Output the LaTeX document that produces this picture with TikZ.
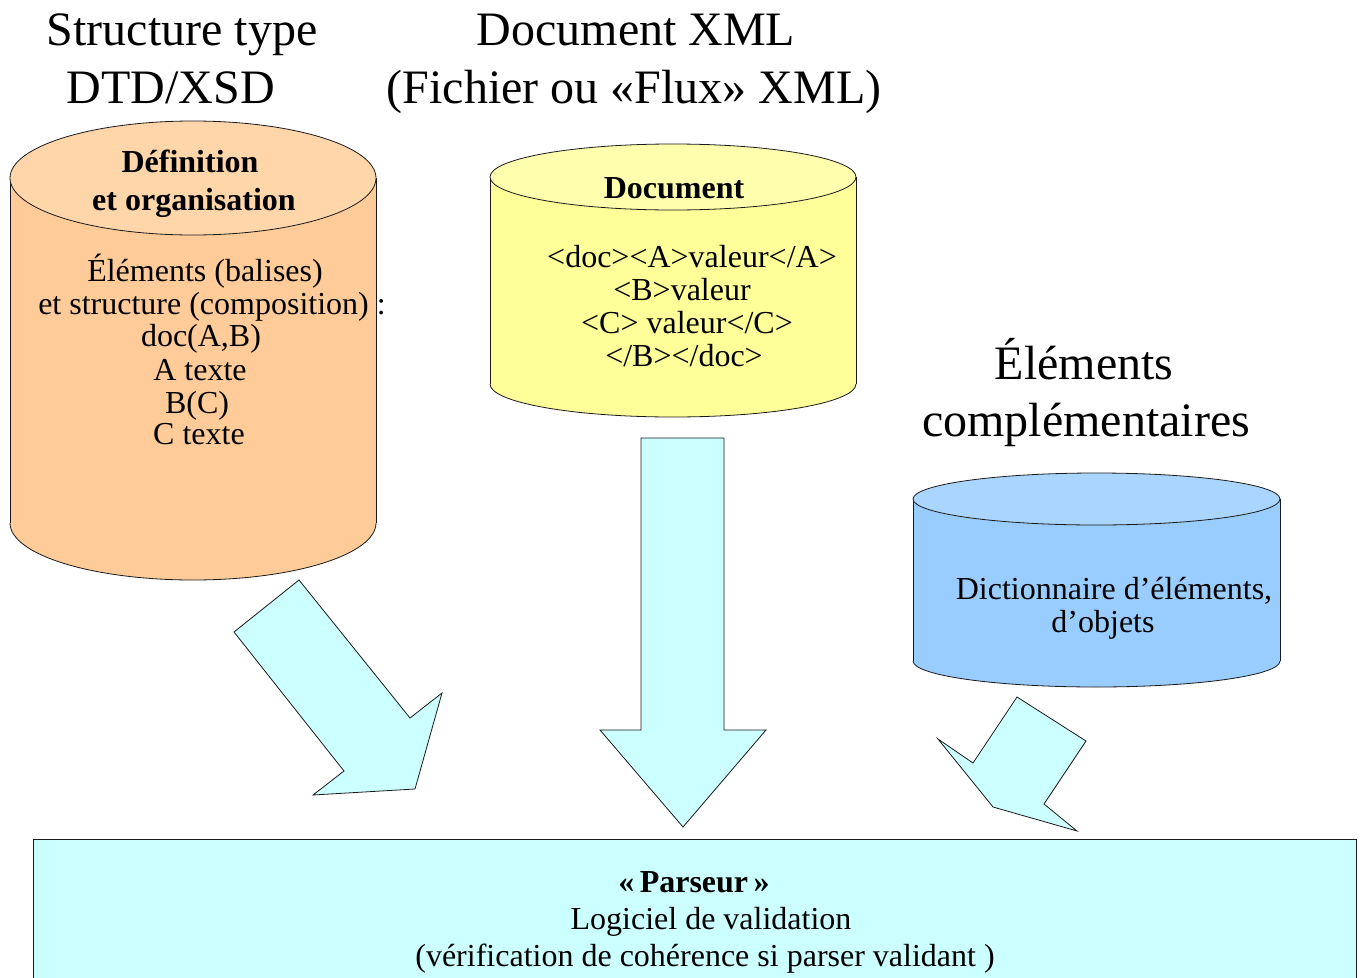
\documentclass[tikz,border=0pt]{standalone}
\usepackage{fontspec}
\setmainfont{Liberation Serif}
\definecolor{peachbody}{HTML}{FFCC99}
\definecolor{peachtop}{HTML}{FFD5AA}
\definecolor{yellowbody}{HTML}{FFFF99}
\definecolor{yellowtop}{HTML}{FFFFAD}
\definecolor{bluebody}{HTML}{99CCFF}
\definecolor{bluetop}{HTML}{AAD5FF}
\definecolor{arrowfill}{HTML}{CCFFFF}
\definecolor{edge}{HTML}{1A1A1A}
\newcommand{\mycyl}[7]{% cx, rx, ctop, cbot, ry, body, top
  \fill[#6] ({#1-#2},#3) rectangle ({#1+#2},#4);
  \fill[#6] (#1,#4) ellipse[x radius=#2, y radius=#5];
  \begin{scope}
    \clip ({#1-#2-5},#4) rectangle ({#1+#2+5},{#4+#5+5});
    \draw[outl] (#1,#4) ellipse[x radius=#2, y radius=#5];
  \end{scope}
  \draw[outl] ({#1-#2},#3) -- ({#1-#2},#4);
  \draw[outl] ({#1+#2},#3) -- ({#1+#2},#4);
  \filldraw[outl,fill=#7] (#1,#3) ellipse[x radius=#2, y radius=#5];
}
\begin{document}
\begin{tikzpicture}[x=0.75pt,y=-0.75pt,
  outl/.style={draw=edge,line width=0.6pt},
  blockarrow/.style={draw=edge,line width=0.6pt,fill=arrowfill,line join=miter},
  title/.style={anchor=base,inner sep=0pt,font=\fontsize{36}{40}\selectfont},
  body/.style={anchor=base,inner sep=0pt,font=\fontsize{24}{25}\selectfont},
  bodyb/.style={anchor=base,inner sep=0pt,font=\fontsize{24}{25}\selectfont\bfseries}]
\useasboundingbox (0,0) rectangle (1360,978);

% titles
\node[title] (t1a) at (182,45) {Structure type};
\node[title] (t1b) at (171,103) {DTD/XSD};
\node[title] (t2a) at (636,45) {Document XML};
\node[title] (t2b) at (634,103) {(Fichier ou «Flux» XML)};
\node[title] (t3a) at (1084,379) {Éléments};
\node[title] (t3b) at (1086,436) {complémentaires};

% cylinders
\mycyl{193}{183}{178}{523}{57}{peachbody}{peachtop}
\mycyl{673}{183}{177}{384}{33}{yellowbody}{yellowtop}
\mycyl{1096.5}{183.5}{499}{661}{26}{bluebody}{bluetop}

% left cylinder texts
\node[bodyb] (c1a) at (190,172) {Définition};
\node[bodyb] (c1b) at (194,210) {et organisation};
\node[body] (c1c) at (205,281) {Éléments (balises)};
\node[body] (c1d) at (212,314) {et structure (composition) :};
\node[body] (c1e) at (201,346) {doc(A,B)};
\node[body] (c1f) at (200,380) {A texte};
\node[body] (c1g) at (197,413) {B(C)};
\node[body] (c1h) at (199,444) {C texte};

% middle cylinder texts
\node[bodyb] (c2a) at (674,198) {Document};
\node[body] (c2b) at (692,267) {<doc><A>valeur</A>};
\node[body] (c2c) at (682,300) {<B>valeur};
\node[body] (c2d) at (687,333) {<C> valeur</C>};
\node[body] (c2e) at (684,366) {</B></doc>};

% right cylinder texts
\node[body] (c3a) at (1114,599) {Dictionnaire d’éléments,};
\node[body] (c3b) at (1103,632) {d’objets};

% block arrows
\draw[blockarrow] (299,580) -- (234,632) -- (344,771) -- (313,795) -- (415,789) -- (442,693) -- (410,718) -- cycle;
\draw[blockarrow] (641,438) -- (641,730) -- (600,730) -- (683,827) -- (766,730) -- (724,730) -- (724,438) -- cycle;
\draw[blockarrow] (1017,697) -- (1086,741) -- (1044,804) -- (1077,831) -- (993,807) -- (938,739) -- (973,763) -- cycle;

% parser box
\filldraw[outl,fill=arrowfill] (33,839) rectangle (1356,1010);
\node[bodyb] (p1) at (694,892) {«\,Parseur\,»};
\node[body] (p2) at (711,929) {Logiciel de validation};
\node[body] (p3) at (705,966) {(vérification de cohérence si parser validant )};
\end{tikzpicture}
\end{document}
